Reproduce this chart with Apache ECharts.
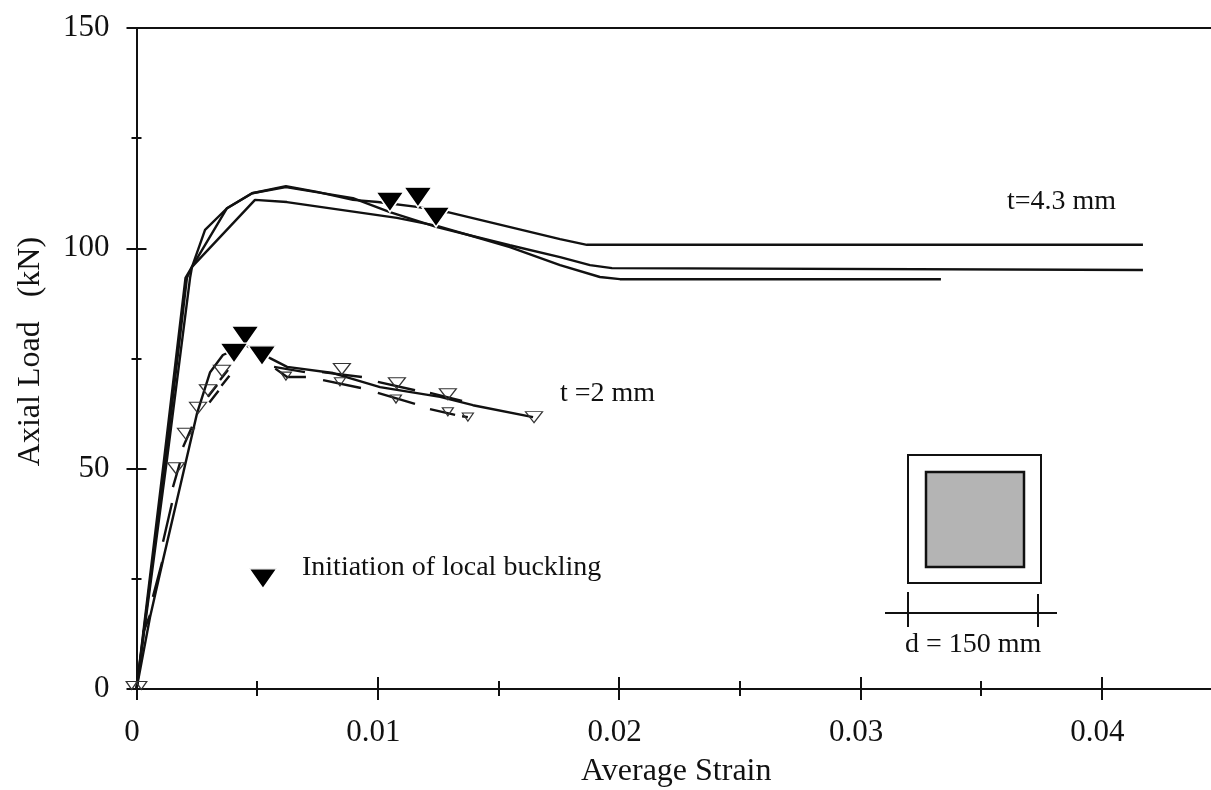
<!DOCTYPE html>
<html>
<head>
<meta charset="utf-8">
<style>html,body{margin:0;padding:0;background:#fff}#c{width:1211px;height:790px}</style>
<script src="https://cdn.jsdelivr.net/npm/echarts@6/dist/echarts.min.js"></script>
</head>
<body>
<div id="c"></div>
<script>
const xMajor = [0, 0.01, 0.02, 0.03, 0.04];
const xMinor = [0.005, 0.015, 0.025, 0.035];
const yMajor = [0, 50, 100, 150];
const yMinor = [25, 75, 125];

const t43Upper = [[0,0],[0.0012,52],[0.00209,93.3],[0.0023,95.8],[0.00284,104.2],[0.00375,109.1],[0.00479,112.5],[0.00619,114.1],[0.00748,112.8],[0.00897,111],[0.01,110.5],[0.01162,109.4],[0.0129,108.2],[0.01755,102.1],[0.01866,100.8],[0.0417,100.8]];
const t43Middle = [[0,0],[0.00114,52],[0.00203,93.3],[0.0023,95.8],[0.00375,109.1],[0.00479,112.5],[0.00619,113.9],[0.00897,111.4],[0.0105,108.2],[0.01245,104.8],[0.01547,100.7],[0.01755,98],[0.01879,96.2],[0.0197,95.5],[0.0417,95.1]];
const t43Lower = [[0,0],[0.00126,52],[0.00222,93.3],[0.0023,95.8],[0.00491,111],[0.00623,110.5],[0.01079,106.9],[0.01245,105.1],[0.01547,100.3],[0.01755,96.2],[0.0192,93.5],[0.02003,93],[0.03333,93]];

const t2Solid = [[0,0],[0.00056,16.3],[0.0011,29.3],[0.0018,45.8],[0.00251,62.6],[0.00305,71.9],[0.00358,75.8],[0.0045,78.1],[0.00553,75.1],[0.00624,73.1],[0.00814,71.7],[0.01009,68.5],[0.01258,66.3],[0.01394,64.4],[0.01643,61.7]];
const t2DashA = [[0.00027,12.7],[0.00056,16.8],[null,null],[0.00068,20.9],[0.00106,28.8],[null,null],[0.0011,33.4],[0.00147,42.2],[null,null],[0.00151,45.8],[0.0018,51.3],[null,null],[0.00193,54.9],[0.0023,59.5],[null,null],[0.00296,66.3],[0.00334,69],[null,null],[0.00346,70.1],[0.00379,72.4],[null,null],[0.0057,73.1],[0.00698,71.9],[null,null],[0.00769,71.9],[0.00934,70.8],[null,null],[0.01,69.7],[0.01154,67.8],[null,null],[0.01216,67.2],[0.01349,65.4]];
const t2DashB = [[0.00302,65],[0.0034,67.7],[null,null],[0.00352,68.8],[0.00385,71.1],[null,null],[0.00575,72.7],[0.00624,70.8],[0.00702,70.8],[null,null],[0.00773,70.1],[0.0093,68.3],[null,null],[0.01,67.2],[0.01154,64.7],[null,null],[0.01216,63.5],[0.0132,62.2],[null,null],[0.01349,61.9],[0.01373,61.7]];

const bucklingFilled = [[0.0105,110.5],[0.01166,111.6],[0.01241,107.1],[0.0045,80.1],[0.00404,76.2],[0.0052,75.6],[0.00524,25]];
const openLarge = [[0.00164,50.1],[0.00205,57.9],[0.00255,63.8],[0.00296,67.8],[0.00354,72.2],[0.00851,72.6],[0.01079,69.4],[0.0129,66.9],[0.01647,61.7]];
const openSmall = [[0.00619,71],[0.00843,69.7],[0.01075,65.8],[0.0129,62.9],[0.01373,61.7],[-0.0002,0.8],[0.0002,0.8]];

const serif = '"Liberation Serif","Times New Roman",serif';
const ink = '#111';
const xR = [0, 0.04452], yR = [0, 150];

function xAx(o){return Object.assign({type:'value',min:xR[0],max:xR[1],position:'bottom',splitLine:{show:false},
  axisLine:{show:false,onZero:false},axisLabel:{show:false},axisTick:{show:false}},o);}
function yAx(o){return Object.assign({type:'value',min:yR[0],max:yR[1],position:'left',splitLine:{show:false},
  axisLine:{show:false,onZero:false},axisLabel:{show:false},axisTick:{show:false}},o);}
function ticks(vals,len,inside,w){return {show:true,customValues:vals,length:len,inside:inside,lineStyle:{color:ink,width:w||2}};}
function line(d,w){return {type:'line',data:d,showSymbol:false,symbol:'none',lineStyle:{color:ink,width:w||2.4},connectNulls:false,clip:false,silent:true,z:2};}
function tri(d,size,fill,stroke,bw,z){return {type:'scatter',data:d,symbol:'triangle',symbolRotate:180,symbolSize:size,
  itemStyle:{color:fill,borderColor:stroke,borderWidth:bw,opacity:1},clip:false,silent:true,z:z};}

const chart = echarts.init(document.getElementById('c'),null,{renderer:'canvas'});
chart.setOption({
  animation:false,
  backgroundColor:'#fff',
  grid:{left:136.5,right:0,top:28,bottom:101,containLabel:false,outerBoundsMode:'none'},
  xAxis:[
    xAx({name:'Average Strain',nameLocation:'middle',nameGap:67,
      nameTextStyle:{fontFamily:serif,fontSize:32,color:ink,padding:[0,0,0,5]},
      axisLine:{show:true,onZero:false,lineStyle:{color:ink,width:2}},
      axisTick:ticks(xMajor,11,false),
      axisLabel:{show:true,customValues:xMajor,margin:28,fontFamily:serif,fontSize:31,color:ink,padding:[0,9,0,0],formatter:v=>String(+(+v).toFixed(2))}}),
    xAx({axisTick:ticks(xMajor,12,true)}),
    xAx({axisTick:ticks(xMinor,7,false)}),
    xAx({axisTick:ticks(xMinor,8,true)}),
    xAx({position:'top',axisLine:{show:true,onZero:false,lineStyle:{color:ink,width:2}}})
  ],
  yAxis:[
    yAx({name:'Axial Load   (kN)',nameLocation:'middle',nameGap:90,
      nameTextStyle:{fontFamily:serif,fontSize:32,color:ink,padding:[0,0,0,14]},
      axisLine:{show:true,onZero:false,lineStyle:{color:ink,width:2}},
      axisTick:ticks(yMajor,10,false),
      axisLabel:{show:true,customValues:yMajor,margin:27,fontFamily:serif,fontSize:31,color:ink,padding:[0,0,16,0]}}),
    yAx({axisTick:ticks(yMajor,10,true)}),
    yAx({axisTick:ticks(yMinor,5,false)}),
    yAx({axisTick:ticks(yMinor,5,true)})
  ],
  series:[
    line(t43Upper),line(t43Middle),line(t43Lower),
    line(t2Solid),line(t2DashA),line(t2DashB),
    tri(openLarge,[17,11],'rgba(255,255,255,0)','#333',1.2,3),
    tri(openSmall,[11,8],'rgba(255,255,255,0)','#333',1.2,3),
    tri(bucklingFilled,[28,20],'#000','#fff',1.5,4)
  ],
  graphic:[
    {type:'text',x:1007,y:188,z:10,style:{text:'t=4.3 mm',font:'28px '+serif,fill:ink}},
    {type:'text',x:560,y:380,z:10,style:{text:'t =2 mm',font:'28px '+serif,fill:ink}},
    {type:'text',x:302,y:554,z:10,style:{text:'Initiation of local buckling',font:'28px '+serif,fill:ink}},
    {type:'rect',z:5,shape:{x:908,y:455,width:133,height:128},style:{fill:'#fff',stroke:ink,lineWidth:2}},
    {type:'rect',z:6,shape:{x:926,y:472,width:98,height:95},style:{fill:'#b4b4b4',stroke:ink,lineWidth:2.5}},
    {type:'line',z:5,shape:{x1:885,y1:613,x2:1057,y2:613},style:{stroke:ink,lineWidth:2}},
    {type:'line',z:5,shape:{x1:908,y1:592,x2:908,y2:627},style:{stroke:ink,lineWidth:2}},
    {type:'line',z:5,shape:{x1:1038,y1:594,x2:1038,y2:627},style:{stroke:ink,lineWidth:2}},
    {type:'text',x:905,y:631,z:10,style:{text:'d = 150 mm',font:'28px '+serif,fill:ink}}
  ]
});
</script>
</body>
</html>
